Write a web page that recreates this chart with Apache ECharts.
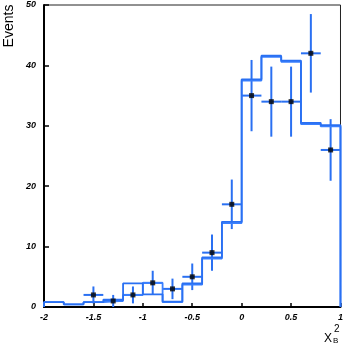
<!DOCTYPE html>
<html>
<head>
<meta charset="utf-8">
<script src="https://cdn.jsdelivr.net/npm/echarts@6/dist/echarts.min.js"></script>
<style>
  html, body { margin: 0; padding: 0; background: #fff; }
  #chart { width: 346px; height: 346px; }
</style>
</head>
<body>
<div id="chart"></div>
<script>
  // bin edges of the histograms
  var binEdges = [-2, -1.8, -1.6, -1.4, -1.2, -1.0, -0.8, -0.6, -0.4, -0.2, 0, 0.2, 0.4, 0.6, 0.8, 1.0];
  // two simulated shapes
  var histA = [0.8, 0.45, 0.8, 1.2, 3.9, 2.1, 0.9, 3.9, 8.2, 14.1, 37.7, 41.6, 40.8, 30.5, 30.1];
  var histB = [0.8, 0.45, 0.8, 1.0, 2.0, 4.0, 0.8, 3.7, 8.0, 13.9, 37.5, 41.4, 40.6, 30.3, 29.9];
  // data points
  var dataX = [-1.5, -1.3, -1.1, -0.9, -0.7, -0.5, -0.3, -0.1, 0.1, 0.3, 0.5, 0.7, 0.9];
  var dataY = [2, 1, 2, 4, 3, 5, 9, 17, 35, 34, 34, 42, 26];
  var dataErr = [1.4, 1.0, 1.4, 2.0, 1.7, 2.2, 3.0, 4.1, 5.9, 5.8, 5.8, 6.5, 5.1];
  var halfBin = 0.1;

  var blue = '#2a70f2';

  function stepData(vals) {
    var out = [[binEdges[0], 0]];
    for (var i = 0; i < vals.length; i++) out.push([binEdges[i], vals[i]]);
    out.push([binEdges[binEdges.length - 1], vals[vals.length - 1]]);
    out.push([binEdges[binEdges.length - 1], 0]);
    return out;
  }

  var errData = dataX.map(function (x, i) {
    return [x, dataY[i], dataErr[i]];
  });

  var labelStyle = {
    color: '#000',
    fontSize: 9,
    fontWeight: 'bold',
    fontStyle: 'italic',
    fontFamily: 'Liberation Sans'
  };

  var myChart = echarts.init(document.getElementById('chart'));
  myChart.setOption({
    animation: false,
    grid: {
      left: 44, top: 5, right: 3, bottom: 39,
      show: true,
      borderColor: '#222',
      borderWidth: 1
    },
    xAxis: {
      type: 'value',
      min: -2, max: 1, interval: 0.5,
      axisLine: { onZero: false, lineStyle: { color: '#000', width: 2 } },
      axisTick: { inside: true, length: 4, lineStyle: { color: '#000', width: 1.5 } },
      axisLabel: Object.assign({ margin: 6 }, labelStyle),
      splitLine: { show: false }
    },
    yAxis: {
      type: 'value',
      min: 0, max: 50, interval: 10,
      axisLine: { show: true, onZero: false, lineStyle: { color: '#000', width: 2 } },
      axisTick: { show: true, inside: true, length: 5, lineStyle: { color: '#000', width: 1.5 } },
      axisLabel: Object.assign({ margin: 8 }, labelStyle),
      splitLine: { show: false }
    },
    graphic: [
      {
        type: 'text', x: 9, y: 26, rotation: Math.PI / 2,
        style: { text: 'Events', fontSize: 14, fontFamily: 'Liberation Sans', fill: '#000', align: 'center', verticalAlign: 'middle' }
      },
      {
        type: 'text', x: 324, y: 333,
        style: { text: 'X', fontSize: 12, fontFamily: 'Liberation Sans', fill: '#000' }
      },
      {
        type: 'text', x: 333, y: 337,
        style: { text: 'B', fontSize: 8, fontFamily: 'Liberation Sans', fill: '#000' }
      },
      {
        type: 'text', x: 334, y: 324,
        style: { text: '2', fontSize: 10, fontFamily: 'Liberation Sans', fill: '#000' }
      }
    ],
    series: [
      {
        type: 'line', step: 'end', symbol: 'none',
        data: stepData(histB),
        lineStyle: { color: '#3a80ff', width: 1.8 }
      },
      {
        type: 'line', step: 'end', symbol: 'none',
        data: stepData(histA),
        lineStyle: { color: blue, width: 1.8 }
      },
      {
        type: 'custom',
        data: errData,
        renderItem: function (params, api) {
          var x = api.value(0), y = api.value(1), e = api.value(2);
          var pL = api.coord([x - halfBin, y]);
          var pR = api.coord([x + halfBin, y]);
          var pT = api.coord([x, Math.min(y + e, 50)]);
          var pB = api.coord([x, Math.max(y - e, 0)]);
          var st = { stroke: blue, lineWidth: 2 };
          return {
            type: 'group',
            children: [
              { type: 'line', shape: { x1: pL[0], y1: pL[1], x2: pR[0], y2: pR[1] }, style: st },
              { type: 'line', shape: { x1: pT[0], y1: pT[1], x2: pB[0], y2: pB[1] }, style: st }
            ]
          };
        },
        z: 3
      },
      {
        type: 'scatter',
        data: dataX.map(function (x, i) { return [x, dataY[i]]; }),
        symbol: 'rect', symbolSize: 5,
        itemStyle: { color: '#000' },
        z: 4
      }
    ]
  });
</script>
</body>
</html>
